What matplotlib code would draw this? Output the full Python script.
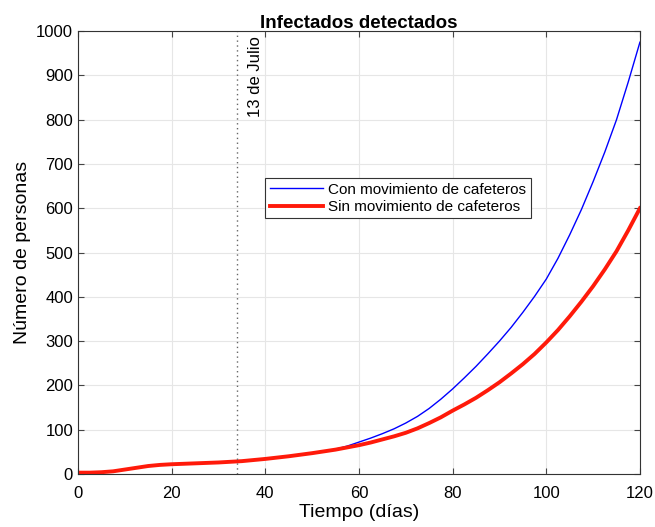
import numpy as np
import matplotlib
matplotlib.use("Agg")
import matplotlib.pyplot as plt

plt.rcParams['font.family'] = ['Liberation Sans', 'DejaVu Sans']

# days (every 2.5 days)
dias = [0, 2.5, 5, 7.5, 10, 12.5, 15, 17.5, 20, 22.5, 25, 27.5, 30, 32.5, 35,
        37.5, 40, 42.5, 45, 47.5, 50, 52.5, 55, 57.5, 60, 62.5, 65, 67.5, 70,
        72.5, 75, 77.5, 80, 82.5, 85, 87.5, 90, 92.5, 95, 97.5, 100, 102.5,
        105, 107.5, 110, 112.5, 115, 117.5, 120]

# with coffee-picker movement
con_mov = [3, 3, 4, 6, 10, 14, 18, 20.5, 22, 23, 24, 25, 26, 27.5, 29,
           31.5, 34, 37, 40, 43.5, 47, 51, 56, 63, 72, 81, 91, 102, 115,
           130, 148, 169, 192, 217, 243, 271, 300, 331, 365, 401, 440, 487,
           540, 597, 660, 727, 800, 885, 975]

# without coffee-picker movement
sin_mov = [3, 3, 4, 6, 10, 14, 18, 20.5, 22, 23, 24, 25, 26, 27.5, 29,
           31.5, 34, 37, 40, 43.5, 47, 51, 55, 60, 65, 71, 78, 85, 93,
           103, 115, 128, 143, 157, 172, 189, 207, 227, 248, 271, 297, 325,
           356, 389, 424, 462, 503, 550, 600]

dia_julio = 34

fig = plt.figure(figsize=(6.55, 5.27), dpi=100)
ax = fig.add_axes([0.119, 0.1006, 0.858, 0.8404])

ax.plot(dias, con_mov, color='#0000ff', lw=1.0, label='Con movimiento de cafeteros')
ax.plot(dias, sin_mov, color='#ff1a0a', lw=2.8, label='Sin movimiento de cafeteros')
ax.axvline(dia_julio, color='#666666', ls=(0, (1, 2.5)), lw=1.0)
ax.text(dia_julio + 2.4, 988, '13 de Julio', rotation=90, ha='left', va='top', fontsize=12)

ax.set_xlim(0, 120)
ax.set_ylim(0, 1000)
ax.set_xticks(np.arange(0, 121, 20))
ax.set_yticks(np.arange(0, 1001, 100))
ax.grid(True, color='#e6e6e6', lw=0.8)
ax.tick_params(direction='in', top=True, right=True, labelsize=12, length=4, color='#444444')
ax.tick_params(axis='x', pad=9)
for s in ax.spines.values():
    s.set_color('#333333')
    s.set_linewidth(0.8)

ax.set_title('Infectados detectados', fontsize=13.5, fontweight='bold', pad=2)
ax.set_xlabel('Tiempo (días)', fontsize=14, labelpad=2)
ax.set_ylabel('Número de personas', fontsize=14, labelpad=4)

leg = ax.legend(loc='upper left', bbox_to_anchor=(0.32, 0.685), fontsize=11,
                fancybox=False, framealpha=1, edgecolor='#333333',
                handlelength=3.5, borderpad=0.3, labelspacing=0.2, handletextpad=0.3)
leg.get_frame().set_linewidth(0.8)

fig.savefig('out.png', dpi=100)
